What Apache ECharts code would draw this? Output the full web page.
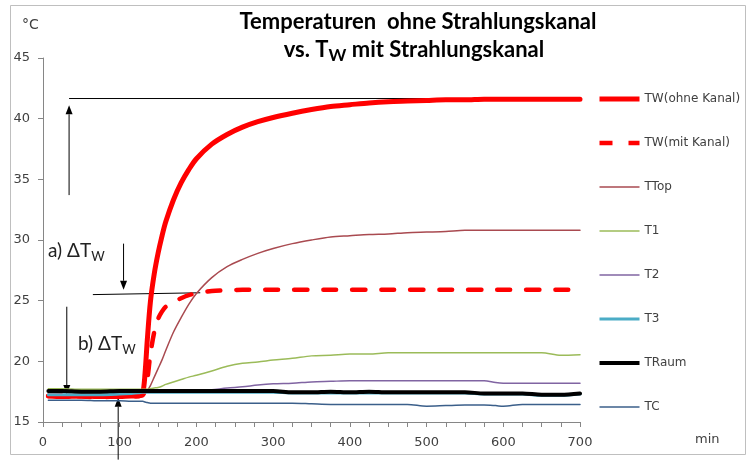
<!DOCTYPE html>
<html>
<head>
<meta charset="utf-8">
<script src="https://cdn.jsdelivr.net/npm/echarts@6/dist/echarts.min.js"></script>
<style>
  html, body { margin: 0; padding: 0; background: #fff; }
  #chart { width: 747px; height: 461px; }
</style>
</head>
<body>
<div id="chart"></div>
<script>
// time axis (min)
const minutes = [7, 25, 50, 75, 100, 115, 125, 130, 133, 136, 140, 145, 150, 155, 160, 170, 180, 190, 200, 220,
  240, 260, 280, 300, 325, 350, 375, 400, 425, 450, 475, 500, 525, 550, 575, 590, 600, 625, 650, 675, 700];

const twOhne = [17.15, 17.1, 17.15, 17.1, 17.1, 17.15, 17.15, 17.4, 19.0, 21.8, 24.9, 27.2, 28.9, 30.3, 31.5, 33.3, 34.7, 35.8, 36.7, 37.9,
  38.7, 39.3, 39.75, 40.1, 40.45, 40.75, 41.0, 41.15, 41.3, 41.4, 41.45, 41.5, 41.55, 41.55, 41.6, 41.6, 41.6, 41.6, 41.6, 41.6, 41.6];
const twMit = [17.15, 17.2, 17.1, 17.05, 17.1, 17.1, 17.15, 17.2, 17.6, 18.5, 20.6, 22.4, 23.5, 24.1, 24.5, 24.9, 25.2, 25.45, 25.6, 25.8,
  25.85, 25.9, 25.9, 25.9, 25.9, 25.9, 25.9, 25.9, 25.9, 25.9, 25.9, 25.9, 25.9, 25.9, 25.9, 25.9, 25.9, 25.9, 25.9, 25.9, 25.9];
const tTop = [17.5, 17.5, 17.5, 17.5, 17.5, 17.5, 17.5, 17.5, 17.5, 17.6, 18.0, 18.7, 19.4, 20.1, 20.9, 22.4, 23.6, 24.7, 25.6, 26.9,
  27.8, 28.4, 28.9, 29.3, 29.7, 30.0, 30.25, 30.35, 30.45, 30.5, 30.6, 30.65, 30.7, 30.8, 30.8, 30.8, 30.8, 30.8, 30.8, 30.8, 30.8];
const t1 = [17.75, 17.75, 17.7, 17.7, 17.7, 17.7, 17.7, 17.7, 17.7, 17.7, 17.75, 17.8, 17.85, 17.95, 18.1, 18.3, 18.5, 18.7, 18.85, 19.2,
  19.6, 19.85, 19.95, 20.1, 20.25, 20.45, 20.5, 20.6, 20.6, 20.7, 20.7, 20.7, 20.7, 20.7, 20.7, 20.7, 20.7, 20.7, 20.7, 20.5, 20.55];
const t2 = [17.55, 17.55, 17.55, 17.55, 17.55, 17.55, 17.55, 17.55, 17.55, 17.55, 17.55, 17.55, 17.55, 17.55, 17.55, 17.55, 17.55, 17.55, 17.55, 17.65,
  17.8, 17.9, 18.05, 18.15, 18.2, 18.3, 18.35, 18.4, 18.4, 18.4, 18.4, 18.4, 18.4, 18.4, 18.4, 18.25, 18.2, 18.2, 18.2, 18.2, 18.2];
const t3 = [17.25, 17.25, 17.25, 17.25, 17.3, 17.35, 17.4, 17.45, 17.45, 17.45, 17.45, 17.45, 17.45, 17.45, 17.45, 17.45, 17.45, 17.45, 17.45, 17.45,
  17.45, 17.45, 17.45, 17.45, 17.4, 17.4, 17.4, 17.4, 17.4, 17.4, 17.4, 17.4, 17.4, 17.4, 17.3, 17.3, 17.3, 17.3, 17.2, 17.2, 17.3];
const tRaum = [17.55, 17.55, 17.5, 17.5, 17.55, 17.55, 17.55, 17.55, 17.55, 17.55, 17.55, 17.55, 17.55, 17.55, 17.55, 17.55, 17.55, 17.55, 17.55, 17.55,
  17.55, 17.55, 17.55, 17.55, 17.45, 17.45, 17.5, 17.45, 17.5, 17.45, 17.45, 17.45, 17.45, 17.45, 17.35, 17.35, 17.35, 17.35, 17.25, 17.25, 17.35];
const tC = [16.8, 16.8, 16.8, 16.75, 16.75, 16.7, 16.7, 16.7, 16.65, 16.6, 16.55, 16.55, 16.55, 16.55, 16.55, 16.55, 16.55, 16.55, 16.55, 16.55,
  16.55, 16.55, 16.55, 16.55, 16.55, 16.5, 16.45, 16.45, 16.45, 16.45, 16.45, 16.3, 16.35, 16.4, 16.4, 16.35, 16.3, 16.45, 16.45, 16.45, 16.45];

// annotation lines in data coords [min, °C]
const refLines = [
  [[34, 41.66], [690, 41.66]],
  [[65, 25.5], [205, 25.65]]
];
const arrows = [
  [[34, 33.7], [34, 41.1]],
  [[105, 29.7], [105, 25.9]],
  [[31, 24.5], [31, 17.3]],
  [[98, 11.9], [98, 17.0]]
];

const labelFont = 'DejaVu Sans';
const titleFont = 'Lato';

function pairs(vals) {
  return minutes.map((m, i) => [m, vals[i]]);
}

function mkSeries(name, vals, color, width, type) {
  return {
    name: name,
    type: 'line',
    data: pairs(vals),
    symbol: 'none',
    smooth: 0.3,
    lineStyle: { color: color, width: width, type: type || 'solid', cap: 'round' },
    itemStyle: { color: color }
  };
}

const seriesList = [
  mkSeries('TW(ohne Kanal)', twOhne, '#ff0000', 5),
  mkSeries('TW(mit Kanal)', twMit, '#ff0000', 4.5, [13, 16]),
  mkSeries('TTop', tTop, '#a94a50', 1.5),
  mkSeries('T1', t1, '#9bbb59', 1.5),
  mkSeries('T2', t2, '#8064a2', 1.5),
  mkSeries('T3', t3, '#4bacc6', 3),
  mkSeries('TRaum', tRaum, '#000000', 4),
  mkSeries('TC', tC, '#3b5f8a', 1.5)
];

const chart = echarts.init(document.getElementById('chart'));

const option = {
  animation: false,
  grid: { left: 43, right: 167, top: 58, bottom: 39 },
  legend: {
    orient: 'vertical',
    left: 592,
    top: 88,
    itemWidth: 40,
    itemHeight: 14,
    itemGap: 32,
    itemStyle: { opacity: 0 },
    data: seriesList.map(s => ({
      name: s.name,
      lineStyle: { width: s.lineStyle.width, type: s.lineStyle.type, cap: 'butt' }
    })),
    textStyle: { fontFamily: labelFont, fontSize: 12, color: '#404040' }
  },
  xAxis: {
    type: 'value',
    min: 0,
    max: 700,
    interval: 100,
    axisLine: { lineStyle: { color: '#868686', width: 1 } },
    axisTick: { show: true, length: 5, lineStyle: { color: '#868686' } },
    minorTick: { show: true, splitNumber: 4, length: 5, lineStyle: { color: '#868686' } },
    splitLine: { show: false },
    axisLabel: { fontFamily: labelFont, fontSize: 13, color: '#404040', margin: 14 }
  },
  yAxis: {
    type: 'value',
    min: 15,
    max: 45,
    interval: 5,
    axisLine: { show: true, lineStyle: { color: '#868686', width: 1 } },
    axisTick: { show: true, length: 5, lineStyle: { color: '#868686' } },
    splitLine: { show: false },
    axisLabel: { fontFamily: labelFont, fontSize: 13, color: '#404040', margin: 13 }
  },
  series: seriesList
};

chart.setOption(option);

// overlay: frame, title, units, annotations
function px(p) {
  return chart.convertToPixel({ xAxisIndex: 0, yAxisIndex: 0 }, p);
}

const graphics = [];

graphics.push({
  type: 'rect',
  shape: { x: 10.5, y: 5.5, width: 735, height: 449 },
  style: { fill: null, stroke: '#bfbfbf', lineWidth: 1 },
  silent: true
});

graphics.push({
  type: 'text',
  style: {
    text: 'Temperaturen  ohne Strahlungskanal',
    x: 418, y: 22, align: 'center', verticalAlign: 'middle',
    fontFamily: titleFont, fontSize: 22, fontWeight: 'bold', fill: '#000'
  }
});
graphics.push({
  type: 'text',
  style: {
    text: '{a|vs. T}{s|W}{a| mit Strahlungskanal}',
    x: 414, y: 50, align: 'center', verticalAlign: 'middle',
    rich: {
      a: { fontFamily: titleFont, fontSize: 22, fontWeight: 'bold', fill: '#000' },
      s: { fontFamily: titleFont, fontSize: 17, fontWeight: 'bold', fill: '#000', padding: [12, 0, 0, 0] }
    }
  }
});

graphics.push({
  type: 'text',
  style: { text: '°C', x: 22, y: 25, verticalAlign: 'middle', fontFamily: labelFont, fontSize: 14, fill: '#404040' }
});
graphics.push({
  type: 'text',
  style: { text: 'min', x: 695, y: 440, verticalAlign: 'middle', fontFamily: labelFont, fontSize: 13, fill: '#404040' }
});

function deltaLabel(prefix, x, y) {
  return {
    type: 'text',
    style: {
      text: '{a|' + prefix + ' ΔT}{s|W}',
      x: x, y: y, verticalAlign: 'middle',
      rich: {
        a: { fontFamily: titleFont, fontSize: 19, fill: '#222' },
        s: { fontFamily: titleFont, fontSize: 13, fill: '#222', padding: [12, 0, 0, 0] }
      }
    }
  };
}
graphics.push(deltaLabel('a)', 48, 251));
graphics.push(deltaLabel('b)', 78, 344));

refLines.forEach(function (seg) {
  const a = px(seg[0]), b = px(seg[1]);
  graphics.push({
    type: 'line',
    shape: { x1: a[0], y1: a[1], x2: b[0], y2: b[1] },
    style: { stroke: '#000', lineWidth: 1 }
  });
});

arrows.forEach(function (seg) {
  const a = px(seg[0]), b = px(seg[1]);
  const dx = b[0] - a[0], dy = b[1] - a[1];
  const len = Math.sqrt(dx * dx + dy * dy);
  const ux = dx / len, uy = dy / len;
  const hl = 9, hw = 3.5;
  const bx = b[0] - ux * hl, by = b[1] - uy * hl;
  graphics.push({
    type: 'line',
    shape: { x1: a[0], y1: a[1], x2: bx, y2: by },
    style: { stroke: '#000', lineWidth: 1 }
  });
  graphics.push({
    type: 'polygon',
    shape: { points: [[b[0], b[1]], [bx - uy * hw, by + ux * hw], [bx + uy * hw, by - ux * hw]] },
    style: { fill: '#000' }
  });
});

chart.setOption({ graphic: graphics });

window.addEventListener('resize', () => {
  chart.resize();
});
</script>
</body>
</html>
